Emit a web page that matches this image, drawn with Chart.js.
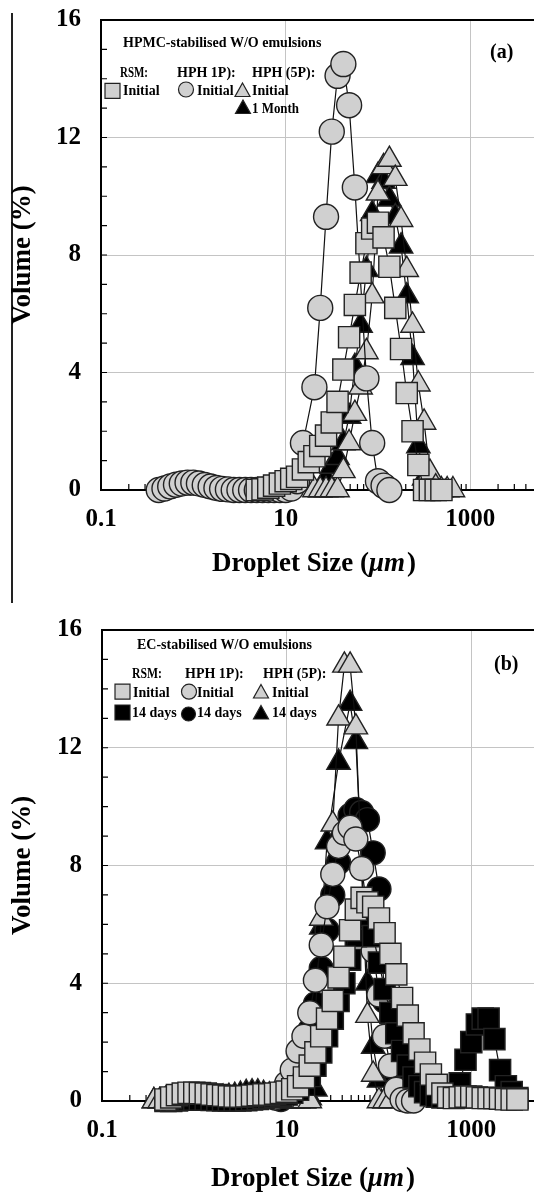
<!DOCTYPE html>
<html>
<head>
<meta charset="utf-8">
<script src="https://cdn.jsdelivr.net/npm/chart.js@4.4.1/dist/chart.umd.min.js"></script>
<style>
  html, body { margin: 0; padding: 0; background: #fff; overflow: hidden; width: 534px; height: 1192px; }
  #ca { position: absolute; left: 0; top: 0; }
  #cb { position: absolute; left: 0; top: 600px; }
  .edge { position: absolute; left: 11px; top: 13px; height: 590px; border-left: 2px solid #222; }
</style>
</head>
<body>
<div class="edge"></div>
<canvas id="ca" width="579" height="600"></canvas>
<canvas id="cb" width="580" height="596"></canvas>
<script>
// droplet size classes (um), 16 per decade
const SIZES = [0.100, 0.115, 0.133, 0.154, 0.178, 0.205, 0.237, 0.274, 0.316, 0.365, 0.422, 0.487, 0.562, 0.649, 0.750, 0.866,
    1.00, 1.15, 1.33, 1.54, 1.78, 2.05, 2.37, 2.74, 3.16, 3.65, 4.22, 4.87, 5.62, 6.49, 7.50, 8.66,
    10.0, 11.5, 13.3, 15.4, 17.8, 20.5, 23.7, 27.4, 31.6, 36.5, 42.2, 48.7, 56.2, 64.9, 75.0, 86.6,
    100, 115, 133, 154, 178, 205, 237, 274, 316, 365, 422, 487, 562, 649, 750, 866,
    1000, 1150, 1330, 1540, 1780, 2050, 2370, 2740, 3160];

const X_TICKS = [0.1, 10, 1000];

// (a) HPMC-stabilised W/O emulsions -- each series starts at SIZES[..._FROM]
const A_RSM_FROM = 27;
const A_RSM_INITIAL = [0.0, 0.02, 0.08, 0.15, 0.22, 0.3, 0.38, 0.45, 0.7, 0.95, 1.15, 1.5, 1.85, 2.3, 3.0, 4.1,
    5.2, 6.3, 7.4, 8.4, 8.9, 9.1, 8.6, 7.6, 6.2, 4.8, 3.3, 2.0, 0.85, 0.0, 0.0, 0.0, 0.0];
const A_HPH1_FROM = 10;
const A_HPH1_INITIAL = [0.0, 0.05, 0.12, 0.18, 0.22, 0.25, 0.25, 0.22, 0.17, 0.12, 0.07, 0.04, 0.02, 0.0,
    0, 0, 0, 0, 0, 0, 0, 0, 0, 0.05, 0.3,
    1.6, null, 3.5, 6.2, 9.3, 12.2, 14.1, 14.5, 13.1, 10.3, null, 3.8, 1.6, 0.3, 0.15, 0.0];
const A_HPH5_FROM = 37;
const A_HPH5_INITIAL = [0, 0, 0, 0, 0, 0.65, 1.6, 2.6, 3.5, 4.7, 6.6, 10.1, 11.0, 11.25, 10.6, 9.2, 7.5, 5.6,
    3.6, 2.3, 0.6, 0.1, 0, 0, 0];
const A_HPH5_MONTH_FROM = 38;
const A_HPH5_MONTH = [0.0, 0.4, 0.8, 1.1, 1.6, 2.5, 4.2, 5.6, 7.5, 9.4, 10.7, 10.5, 9.9, 9.3, 8.3, 6.6, 4.5,
    1.5, 0.4, 0.0, 0.0];

// (b) EC-stabilised W/O emulsions
const B_RSM_FROM = 11;
const B_RSM_INITIAL = [0.05, 0.12, 0.2, 0.25, 0.28, 0.28, 0.27, 0.25, 0.22, 0.2, 0.18, 0.16, 0.15, 0.15, 0.16, 0.18, 0.2,
    0.22, 0.22, 0.25, 0.28, 0.32, 0.4,
    0.5, 0.8, 1.2, 1.65, 2.2, 2.8, 3.4, 4.2, 4.9, 5.8, 6.5, 6.9, 6.75, 6.6, 6.2, 5.7, 5.0, 4.3, 3.5, 2.9,
    2.3, 1.75, 1.3, 0.9, 0.55, 0.25, 0.12,
    0.1, 0.12, 0.15, 0.15, 0.12, 0.1, 0.1, 0.1, 0.08, 0.06, 0.05, 0.05];
const B_RSM_14D_FROM = 11;
const B_RSM_14D = [0, 0, 0.02, 0.05, 0.05, 0.05, 0.05, 0.05, 0.04, 0.03, 0.02, 0.02, 0.02, 0.02, 0.03, 0.05, 0.07,
    0.1, 0.12, 0.15, 0.18, 0.22, 0.28,
    0.38, 0.55, 0.85, 1.2, 1.65, 2.2, 2.8, 3.4, 4.0, 4.8, 5.6, 6.2, 6.3, 5.6, 4.7, 3.8, 3.0, 2.3, 1.7, 1.2,
    0.8, 0.5, 0.3, 0.2, 0.15, 0.12, 0.12,
    0.2, 0.6, 1.4, 2.0, 2.6, 2.8, 2.8, 2.1, 1.05, 0.5, 0.3, 0.1];
const B_HPH1_FROM = 30;
const B_HPH1_INITIAL = [0.1, 0.3, 0.6, 1.05, 1.7, 2.2, 3.0, 4.1, 5.3, 6.6, 7.7, 8.65, 9.1, 9.3, 8.9, 7.9,
    null, 5.1, 3.6, 2.2, 1.2, 0.4, 0.05, 0, 0];
const B_HPH1_14D_FROM = 31;
const B_HPH1_14D = [0.05, 0.3, 0.7, 1.2, 1.7, 2.4, 3.3, 4.5, 5.8, 7.0, 8.1, 9.0, 9.7, 9.9, 9.8, 9.56, 8.43,
    7.2, 3.4, 2.2, 0.9, 0.3, 0.05];
const B_HPH5_FROM = 9;
const B_HPH5_INITIAL = [0, 0, 0, 0, 0, 0, 0, 0, 0, 0, 0, 0, 0, 0, 0, 0, 0, 0, 0, 0, 0, 0, 0, 0, 0, 0, 0, 0,
    null, 6.2, null, 9.4, 13.0, 14.8, 14.8, 12.7, null, 2.9, 0.9, 0, 0, 0];
const B_HPH5_14D_FROM = 9;
const B_HPH5_14D = [0, 0, 0.05, 0.05, 0.1, 0.1, 0.1, 0.1, 0.1, 0.1, 0.1, 0.1, 0.12, 0.15, 0.18,
    0.22, 0.28, 0.3, 0.3, 0.25, 0.2,
    0.1, 0.05, 0, 0, 0, 0, 0.1,
    0.4, 5.9, 8.8, null, 11.5, null, 13.5, 12.2, null, 4.0, 1.85, 0.7, 0];

const GRAY = '#d0d0d0';
const SERIF = '"Liberation Serif", "Times New Roman", serif';

function pts(from, vals) {
    return vals.map(function (v, i) {
        return { x: SIZES[from + i], y: v };
    });
}

function ds(label, data, style, fill, r, order) {
    return {
        label: label,
        data: data,
        order: order,
        showLine: true,
        borderColor: '#111',
        borderWidth: 1.2,
        pointStyle: style,
        pointRadius: r,
        pointBackgroundColor: fill,
        pointBorderColor: '#222',
        pointBorderWidth: 1.4,
        spanGaps: true,
        clip: false
    };
}

function drawMark(ctx, m) {
    const s = m.s;
    ctx.fillStyle = m.fill;
    ctx.strokeStyle = '#222';
    ctx.lineWidth = 1.2;
    ctx.beginPath();
    if (m.shape === 'rect') {
        ctx.rect(m.x - s / 2, m.y - s / 2, s, s);
    } else if (m.shape === 'circle') {
        ctx.arc(m.x, m.y, s / 2, 0, Math.PI * 2);
    } else {
        ctx.moveTo(m.x, m.y - s * 0.5);
        ctx.lineTo(m.x + s / 2, m.y + s * 0.4);
        ctx.lineTo(m.x - s / 2, m.y + s * 0.4);
        ctx.closePath();
    }
    ctx.fill();
    ctx.stroke();
}

// frame top, inward minor ticks, in-plot legend text, x title with italic unit
const decor = {
    id: 'decor',
    beforeDatasetsDraw(chart, args, o) {
        const ctx = chart.ctx;
        const a = chart.chartArea;
        const x = chart.scales.x, y = chart.scales.y;
        ctx.save();
        ctx.strokeStyle = '#000';
        ctx.lineWidth = 2;
        ctx.beginPath();
        ctx.moveTo(a.left - 1, a.top);
        ctx.lineTo(a.right, a.top);
        ctx.stroke();

        ctx.lineWidth = 1.2;
        ctx.beginPath();
        [0.1, 1, 10, 100, 1000].forEach(function (d) {
            for (let m = 1; m <= 9; m++) {
                const v = d * m;
                if (X_TICKS.indexOf(v) >= 0) continue;
                const px = x.getPixelForValue(v);
                ctx.moveTo(px, a.bottom);
                ctx.lineTo(px, a.bottom - 6);
            }
        });
        for (let v = 1; v < 16; v++) {
            const py = y.getPixelForValue(v);
            ctx.moveTo(a.left, py);
            ctx.lineTo(a.left + 6, py);
        }
        ctx.stroke();

        ctx.fillStyle = '#000';
        ctx.textAlign = 'left';
        ctx.textBaseline = 'alphabetic';
        o.texts.forEach(function (t) {
            ctx.font = t.font || ('bold 14px ' + SERIF);
            if (t.w) ctx.fillText(t.text, t.x, t.y, t.w);
            else ctx.fillText(t.text, t.x, t.y);
        });
        o.marks.forEach(function (m) { drawMark(ctx, m); });

        // axis title: "Droplet Size (" + italic "μm" + ")"
        let tx = o.xTitle.x;
        const ty = o.xTitle.y;
        [['Droplet Size (', 'bold '], ['μm', 'italic bold '], [')', 'bold ']].forEach(function (part) {
            ctx.font = part[1] + '27px ' + SERIF;
            ctx.fillText(part[0], tx, ty);
            tx += ctx.measureText(part[0]).width + (part[0] === 'μm' ? 2 : 0);
        });
        ctx.restore();
    }
};

function makeOptions(p) {
    const tickFont = { family: SERIF, size: 25, weight: 'bold' };
    const titleFont = { family: SERIF, size: 27, weight: 'bold' };
    return {
        responsive: false,
        animation: false,
        events: [],
        layout: { padding: { top: p.top, right: 0, left: 0, bottom: 0 } },
        plugins: {
            legend: { display: false },
            tooltip: { enabled: false },
            decor: p.decor
        },
        scales: {
            x: {
                type: 'logarithmic',
                min: 0.1,
                max: 10000,
                afterBuildTicks: function (s) {
                    s.ticks = X_TICKS.map(function (v) { return { value: v }; });
                },
                afterFit: function (s) {
                    s.height = p.xHeight;
                    s.paddingLeft = 0;
                    s.paddingRight = 0;
                },
                ticks: {
                    font: tickFont, color: '#000', padding: 15,
                    autoSkip: false, maxRotation: 0,
                    callback: function (v) { return String(v); }
                },
                grid: {
                    color: function (c) {
                        return (c.tick && c.tick.value === 0.1) ? 'rgba(0,0,0,0)' : '#c4c4c4';
                    },
                    drawTicks: false,
                    lineWidth: 1
                },
                border: { color: '#000', width: 2 },
                title: { display: false }
            },
            y: {
                min: 0,
                max: 16,
                afterFit: function (s) {
                    s.width = p.left;
                    s.paddingTop = 0;
                    s.paddingBottom = 0;
                },
                ticks: { stepSize: 4, font: tickFont, color: '#000', padding: 20 },
                grid: {
                    color: function (c) {
                        return (c.tick && (c.tick.value === 0 || c.tick.value === 16)) ? 'rgba(0,0,0,0)' : '#c4c4c4';
                    },
                    drawTicks: false,
                    lineWidth: 1
                },
                border: { color: '#000', width: 2 },
                title: {
                    display: true, text: 'Volume (%)', font: titleFont, color: '#000',
                    padding: { top: 7, bottom: 0 }
                }
            }
        }
    };
}

const legendA = {
    texts: [
        { text: 'HPMC-stabilised W/O emulsions', x: 123, y: 47 },
        { text: 'RSM:', x: 120, y: 77, w: 28 },
        { text: 'HPH 1P):', x: 177, y: 77 },
        { text: 'HPH (5P):', x: 252, y: 77 },
        { text: 'Initial', x: 123, y: 95 },
        { text: 'Initial', x: 197, y: 95 },
        { text: 'Initial', x: 252, y: 95 },
        { text: '1 Month', x: 252, y: 113, w: 47 },
        { text: '(a)', x: 490, y: 58, font: 'bold 20px ' + SERIF }
    ],
    marks: [
        { shape: 'rect', fill: GRAY, x: 112.5, y: 90.8, s: 15 },
        { shape: 'circle', fill: GRAY, x: 186, y: 89.5, s: 15 },
        { shape: 'triangle', fill: GRAY, x: 242.5, y: 90.5, s: 15 },
        { shape: 'triangle', fill: '#000', x: 243, y: 107.5, s: 15 }
    ],
    xTitle: { x: 212, y: 571 }
};

const legendB = {
    texts: [
        { text: 'EC-stabilised W/O emulsions', x: 137, y: 49 },
        { text: 'RSM:', x: 132, y: 78, w: 30 },
        { text: 'HPH 1P):', x: 185, y: 78 },
        { text: 'HPH (5P):', x: 263, y: 78 },
        { text: 'Initial', x: 133, y: 97 },
        { text: 'Initial', x: 197, y: 97 },
        { text: 'Initial', x: 272, y: 97 },
        { text: '14 days', x: 132, y: 117 },
        { text: '14 days', x: 197, y: 117 },
        { text: '14 days', x: 272, y: 117 },
        { text: '(b)', x: 494, y: 70, font: 'bold 20px ' + SERIF }
    ],
    marks: [
        { shape: 'rect', fill: GRAY, x: 122.5, y: 91.7, s: 15 },
        { shape: 'circle', fill: GRAY, x: 189, y: 91.7, s: 15 },
        { shape: 'triangle', fill: GRAY, x: 261, y: 92, s: 15 },
        { shape: 'rect', fill: '#000', x: 122.5, y: 112.5, s: 15 },
        { shape: 'circle', fill: '#000', x: 188.5, y: 114, s: 14 },
        { shape: 'triangle', fill: '#000', x: 261, y: 113, s: 15 }
    ],
    xTitle: { x: 211, y: 586 }
};

new Chart(document.getElementById('ca'), {
    type: 'scatter',
    data: {
        datasets: [
            ds('RSM Initial', pts(A_RSM_FROM, A_RSM_INITIAL), 'rect', GRAY, 15, 0),
            ds('HPH 1P Initial', pts(A_HPH1_FROM, A_HPH1_INITIAL), 'circle', GRAY, 12.5, 1),
            ds('HPH 5P Initial', pts(A_HPH5_FROM, A_HPH5_INITIAL), 'triangle', GRAY, 13.5, 2),
            ds('HPH 5P 1 Month', pts(A_HPH5_MONTH_FROM, A_HPH5_MONTH), 'triangle', '#000', 13.5, 3)
        ]
    },
    options: makeOptions({ top: 20, left: 101, xHeight: 110, decor: legendA }),
    plugins: [decor]
});

new Chart(document.getElementById('cb'), {
    type: 'scatter',
    data: {
        datasets: [
            ds('RSM Initial', pts(B_RSM_FROM, B_RSM_INITIAL), 'rect', GRAY, 15, 0),
            ds('RSM 14 days', pts(B_RSM_14D_FROM, B_RSM_14D), 'rect', '#000', 15, 1),
            ds('HPH 1P Initial', pts(B_HPH1_FROM, B_HPH1_INITIAL), 'circle', GRAY, 12, 2),
            ds('HPH 5P Initial', pts(B_HPH5_FROM, B_HPH5_INITIAL), 'triangle', GRAY, 13.5, 3),
            ds('HPH 1P 14 days', pts(B_HPH1_14D_FROM, B_HPH1_14D), 'circle', '#000', 12, 4),
            ds('HPH 5P 14 days', pts(B_HPH5_14D_FROM, B_HPH5_14D), 'triangle', '#000', 13.5, 5)
        ]
    },
    options: makeOptions({ top: 30, left: 102, xHeight: 95, decor: legendB }),
    plugins: [decor]
});
</script>
</body>
</html>
